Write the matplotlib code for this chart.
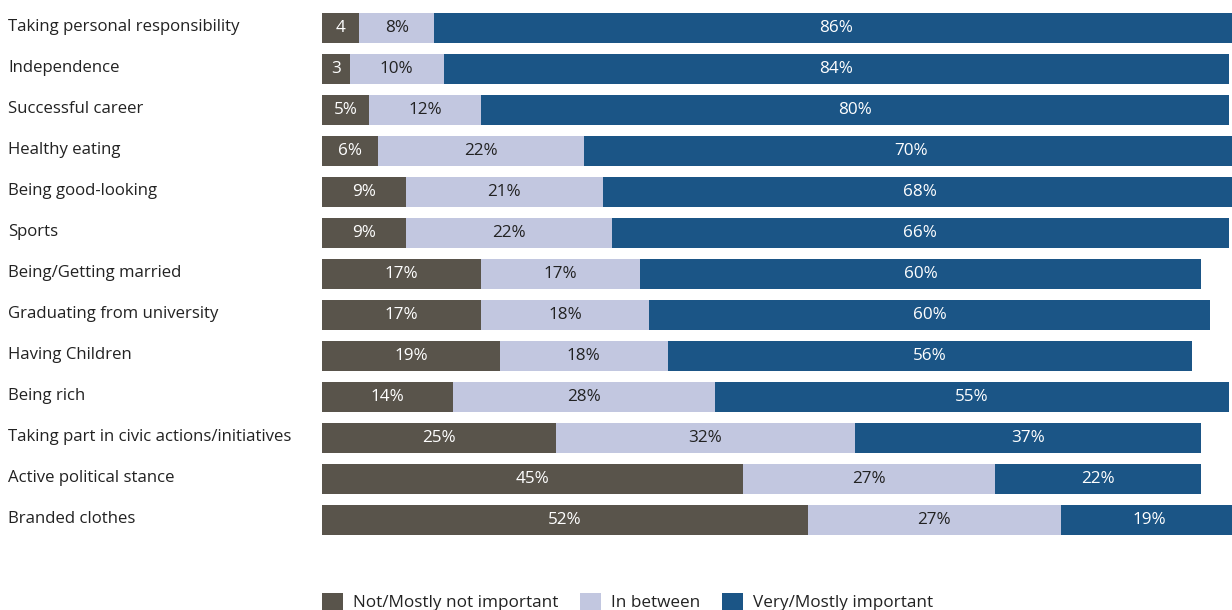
import matplotlib
matplotlib.use("Agg")
import matplotlib.pyplot as plt
from matplotlib.patches import Rectangle
from matplotlib.transforms import blended_transform_factory

categories = [
    "Taking personal responsibility",
    "Independence",
    "Successful career",
    "Healthy eating",
    "Being good-looking",
    "Sports",
    "Being/Getting married",
    "Graduating from university",
    "Having Children",
    "Being rich",
    "Taking part in civic actions/initiatives",
    "Active political stance",
    "Branded clothes",
]
not_important = [4, 3, 5, 6, 9, 9, 17, 17, 19, 14, 25, 45, 52]
in_between = [8, 10, 12, 22, 21, 22, 17, 18, 18, 28, 32, 27, 27]
very_important = [86, 84, 80, 70, 68, 66, 60, 60, 56, 55, 37, 22, 19]

series_names = ["Not/Mostly not important", "In between", "Very/Mostly important"]
colors = ["#59544b", "#c2c7e0", "#1b5586"]
text_colors = ["white", "#222222", "white"]

plt.rcParams["font.family"] = ["Open Sans", "DejaVu Sans"]

W, H = 1232, 610
fig = plt.figure(figsize=(W / 100, H / 100), dpi=100)
ax = fig.add_axes([322 / W, 1 - 540 / H, 1 - 322 / W, 533 / H])

ypos = list(range(len(categories)))
left = [0] * len(categories)
for vals, col, tcol in zip([not_important, in_between, very_important], colors, text_colors):
    bars = ax.barh(ypos, vals, left=left, height=0.73, color=col, edgecolor="none")
    for b, v in zip(bars, vals):
        label = f"{v}" if v < 5 else f"{v}%"
        ax.text(b.get_x() + b.get_width() / 2, b.get_y() + b.get_height() / 2,
                label, ha="center", va="center", color=tcol, fontsize=12.3)
    left = [l + v for l, v in zip(left, vals)]

ax.set_xlim(0, 910 / 9.35)
ax.set_ylim(12 + 20 / 41, -21 / 41)
ax.set_xticks([])
ax.set_yticks([])
for s in ax.spines.values():
    s.set_visible(False)

# category names, left-aligned at the figure edge
trans = blended_transform_factory(ax.transAxes, ax.transData)
for y, name in zip(ypos, categories):
    ax.text((8 - 322) / 910, y - 0.03, name, transform=trans, ha="left", va="center",
            fontsize=12.1, color="#222222", clip_on=False)

# legend along the bottom edge
legend_x = [322, 580, 722]
for x, col, name in zip(legend_x, colors, series_names):
    fig.add_artist(Rectangle((x / W, 0), 21 / W, 17 / H, transform=fig.transFigure,
                             color=col, lw=0))
    fig.text((x + 31) / W, 7 / H, name, ha="left", va="center",
             fontsize=12.3, color="#222222")

fig.savefig("out.png", dpi=100)
